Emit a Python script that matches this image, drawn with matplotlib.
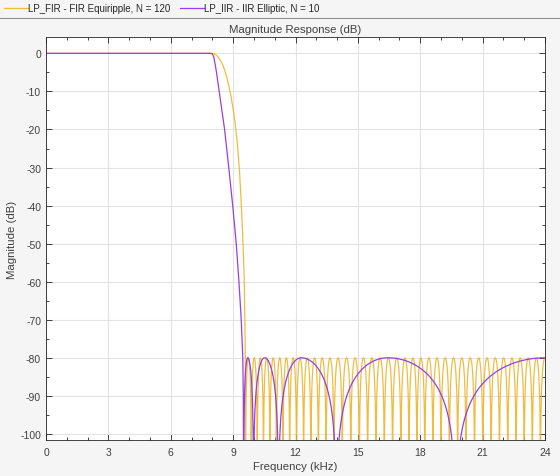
import numpy as np
import matplotlib
matplotlib.use("Agg")
import matplotlib.pyplot as plt
from matplotlib.lines import Line2D
from matplotlib.ticker import MultipleLocator

# ---------------- data ----------------
fir_label = "LP_FIR - FIR Equiripple, N = 120"
iir_label = "LP_IIR - IIR Elliptic, N = 10"

# passband + transition (kHz, dB)
fir_trans_f = [0.0, 7.9, 8.0, 8.1, 8.2, 8.3, 8.4, 8.5, 8.6, 8.7, 8.8, 8.9, 9.0, 9.1, 9.2,
               9.3, 9.35, 9.4, 9.45, 9.5, 9.54, 9.565, 9.585, 9.60]
fir_trans_db = [0.0, 0.0, 0.0, -0.15, -0.5, -1.1, -1.9, -3.0, -4.5, -6.4, -8.7, -11.4, -14.6,
                -18.5, -23.5, -30.5, -35.0, -40.5, -46.5, -53.5, -61.0, -70.0, -80.0, -130.0]
# stopband nulls (kHz) and equiripple level (dB)
fir_nulls = [9.60, 9.87, 10.16, 10.46, 10.77, 11.08, 11.40, 11.72, 12.05, 12.39, 12.74,
             13.10, 13.47, 13.85, 14.25, 14.66, 15.07, 15.47, 15.87, 16.27, 16.67, 17.07,
             17.46, 17.84, 18.22, 18.61, 19.00, 19.40, 19.80, 20.20, 20.61, 21.01, 21.41,
             21.81, 22.21, 22.61, 23.00, 23.39, 23.78]
fir_last_peak = 24.0
fir_stop_db = -80.0

iir_trans_f = [0.0, 7.9, 8.0, 8.07, 8.14, 8.20, 8.33, 8.46, 8.59, 8.79, 8.98, 9.15, 9.28,
               9.39, 9.43, 9.465, 9.49, 9.51]
iir_trans_db = [0.0, 0.0, -0.1, -1.0, -3.0, -5.0, -10.0, -15.0, -20.0, -30.0, -40.0, -50.0,
                -60.0, -70.0, -75.0, -80.0, -90.0, -130.0]
iir_nulls = [9.51, 9.98, 11.18, 13.96, 19.70]
iir_peaks = [9.70, 10.51, 12.27, 16.44, 24.0]
iir_stop_db = -80.0

fir_color = "#EDB120"
iir_color = "#9540E0"


def stopband(nulls, peaks, level, n=160):
    """Lobes between consecutive nulls, each reaching `level` at its peak."""
    fs, ys = [], []
    ends = list(nulls[1:]) + [None]
    for a, b, p in zip(nulls, ends, peaks):
        f1 = np.linspace(a, p, n)
        y1 = level + 20 * np.log10(np.maximum(np.sin(np.pi / 2 * (f1 - a) / (p - a)), 1e-7))
        fs.append(f1); ys.append(y1)
        if b is not None:
            f2 = np.linspace(p, b, n)
            y2 = level + 20 * np.log10(np.maximum(np.sin(np.pi / 2 * (b - f2) / (b - p)), 1e-7))
            fs.append(f2); ys.append(y2)
    return np.concatenate(fs), np.concatenate(ys)


fir_peaks = [(a + b) / 2 for a, b in zip(fir_nulls[:-1], fir_nulls[1:])] + [fir_last_peak]
fsb, ysb = stopband(fir_nulls, fir_peaks, fir_stop_db)
fir_f = np.concatenate([fir_trans_f, fsb])
fir_db = np.concatenate([fir_trans_db, ysb])

isb, iysb = stopband(iir_nulls, iir_peaks, iir_stop_db)
iir_f = np.concatenate([iir_trans_f, isb])
iir_db = np.concatenate([iir_trans_db, iysb])

# ---------------- figure ----------------
plt.rcParams['font.family'] = ['Liberation Sans', 'DejaVu Sans']
plt.rcParams['axes.unicode_minus'] = False
txt = "#404040"
fig = plt.figure(figsize=(5.6, 4.77), dpi=100, facecolor="#f5f5f5")
W, H = 560, 477
ax = fig.add_axes([46 / W, 1 - 441 / H, (545 - 46) / W, (441 - 38) / H])
ax.set_facecolor("white")

ax.plot(fir_f, fir_db, color=fir_color, lw=0.9, alpha=0.85, label=fir_label)
ax.plot(iir_f, iir_db, color=iir_color, lw=0.9, label=iir_label)

ax.set_xlim(0, 24)
ax.set_ylim(-101.6, 4.3)
ax.xaxis.set_major_locator(MultipleLocator(3))
ax.xaxis.set_minor_locator(MultipleLocator(1))
ax.yaxis.set_major_locator(MultipleLocator(10))
ax.yaxis.set_minor_locator(MultipleLocator(5))
ax.grid(True, which="major", color="#e3e3e3", lw=0.8)
ax.set_axisbelow(True)
ax.tick_params(which="both", direction="in", top=True, right=True, colors="#262626",
               labelcolor=txt, labelsize=7.5, width=0.6)
ax.tick_params(which="major", length=4)
ax.tick_params(axis="x", which="major", pad=5)
ax.tick_params(which="minor", length=2)
for s in ax.spines.values():
    s.set_color("#262626")
    s.set_linewidth(0.6)

ax.set_title("Magnitude Response (dB)", fontsize=8.2, color=txt, pad=3.5)
ax.set_xlabel("Frequency (kHz)", fontsize=8.2, color=txt, labelpad=3)
ax.set_ylabel("Magnitude (dB)", fontsize=8.2, color=txt, labelpad=2)

fig.legend(handles=ax.get_lines(), loc="upper left", bbox_to_anchor=(0.0, 1.0), ncol=2,
           frameon=False, fontsize=7.0, handlelength=2.4, handletextpad=0.05,
           columnspacing=1.0, borderaxespad=0.05, labelcolor="#262626")
fig.add_artist(Line2D([0, 1], [1 - 18.5 / H, 1 - 18.5 / H], color="#8c8c8c", lw=0.8,
                      transform=fig.transFigure))

fig.savefig("out.png", dpi=100, facecolor=fig.get_facecolor())
